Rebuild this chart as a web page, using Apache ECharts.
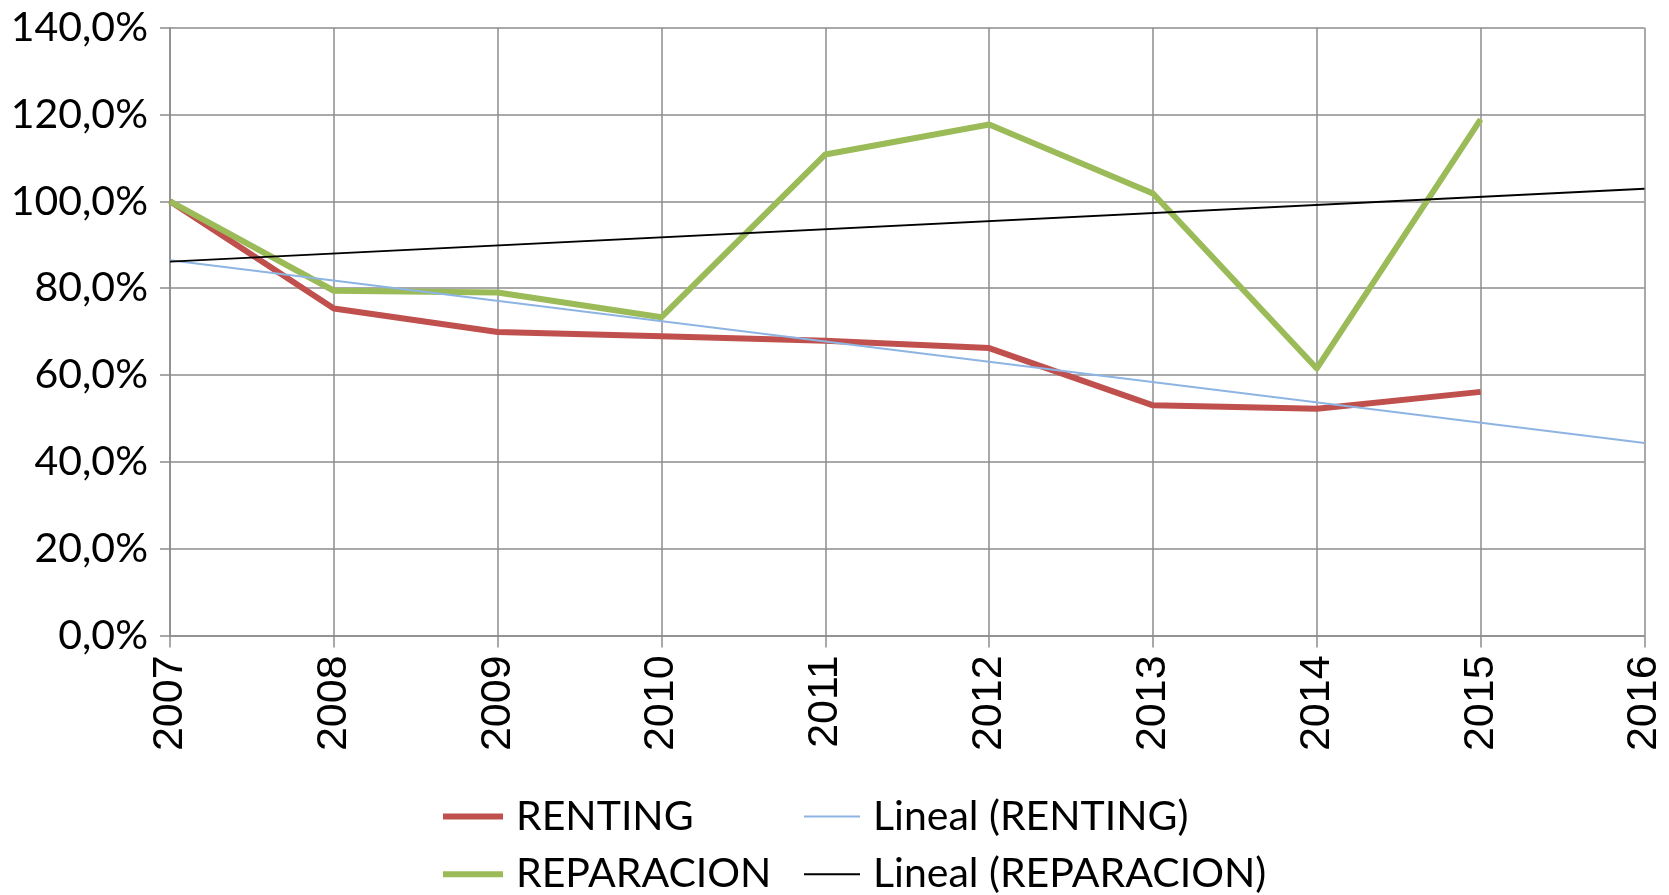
<!DOCTYPE html>
<html>
<head>
<meta charset="utf-8">
<script src="https://cdn.jsdelivr.net/npm/echarts@6/dist/echarts.min.js"></script>
<style>
html,body{margin:0;padding:0;background:#fff;}
#chart{width:1669px;height:895px;}
</style>
</head>
<body>
<div id="chart"></div>
<script>
const years = ['2007','2008','2009','2010','2011','2012','2013','2014','2015','2016'];
const renting = [100, 75.3, 69.9, 68.9, 67.9, 66.2, 53.0, 52.2, 56.1, null];
const reparacion = [100, 79.4, 79.0, 73.3, 110.8, 117.7, 101.8, 61.5, 118.9, null];
const linealRenting = [86.4, null, null, null, null, null, null, null, null, 44.3];
const linealReparacion = [86.1, null, null, null, null, null, null, null, null, 102.9];
const yTicks = [0, 20, 40, 60, 80, 100, 120, 140];
const seriesNames = ['RENTING', 'REPARACION', 'Lineal (RENTING)', 'Lineal (REPARACION)'];

const gridColor = '#8c8c8c';
const chart = echarts.init(document.getElementById('chart'), null, {renderer: 'canvas'});
const legendText = {fontFamily: 'Lato', fontSize: 41, color: '#000', lineHeight: 34, padding: [0, 0, 6, 8]};

function legendFor(name, left, top, w, h) {
  return {
    orient: 'horizontal', left: left, top: top, padding: 0,
    itemWidth: w, itemHeight: h, icon: 'rect', textStyle: legendText,
    data: [name]
  };
}

chart.setOption({
  animation: false,
  backgroundColor: '#fff',
  grid: {left: 170, right: 24.5, top: 27.7, bottom: 259.6, containLabel: false},
  xAxis: {
    type: 'category',
    data: years,
    boundaryGap: false,
    axisLine: {show: true, lineStyle: {color: gridColor, width: 1.5}},
    axisTick: {show: true, length: 12, lineStyle: {color: gridColor, width: 1.5}},
    splitLine: {show: true, lineStyle: {color: gridColor, width: 1.5}},
    axisLabel: {rotate: 90, margin: 20, fontFamily: 'Liberation Sans', fontSize: 43, color: '#000', interval: 0}
  },
  yAxis: {
    type: 'value',
    min: yTicks[0],
    max: yTicks[yTicks.length - 1],
    interval: 20,
    axisLine: {show: true, lineStyle: {color: gridColor, width: 1.5}},
    axisTick: {show: true, length: 10, lineStyle: {color: gridColor, width: 1.5}},
    splitLine: {show: true, lineStyle: {color: gridColor, width: 1.5}},
    axisLabel: {
      margin: 22, fontFamily: 'Lato', fontSize: 41, color: '#000',
      formatter: v => v.toFixed(1).replace('.', ',') + '%'
    }
  },
  legend: [
    legendFor(seriesNames[0], 443, 796, 60, 6),
    legendFor(seriesNames[1], 443, 853.7, 60, 6),
    legendFor(seriesNames[2], 804, 796, 56, 2),
    legendFor(seriesNames[3], 804, 853.7, 56, 2)
  ],
  series: [
    {name: seriesNames[0], type: 'line', data: renting, symbol: 'none',
     lineStyle: {color: '#C0504D', width: 6, join: 'round'}, itemStyle: {color: '#C0504D'}},
    {name: seriesNames[1], type: 'line', data: reparacion, symbol: 'none',
     lineStyle: {color: '#9BBB59', width: 6, join: 'round'}, itemStyle: {color: '#9BBB59'}},
    {name: seriesNames[2], type: 'line', data: linealRenting, symbol: 'none', connectNulls: true,
     lineStyle: {color: '#8DB4E2', width: 2}, itemStyle: {color: '#8DB4E2'}},
    {name: seriesNames[3], type: 'line', data: linealReparacion, symbol: 'none', connectNulls: true,
     lineStyle: {color: '#000000', width: 1.8}, itemStyle: {color: '#000000'}}
  ]
});
</script>
</body>
</html>
